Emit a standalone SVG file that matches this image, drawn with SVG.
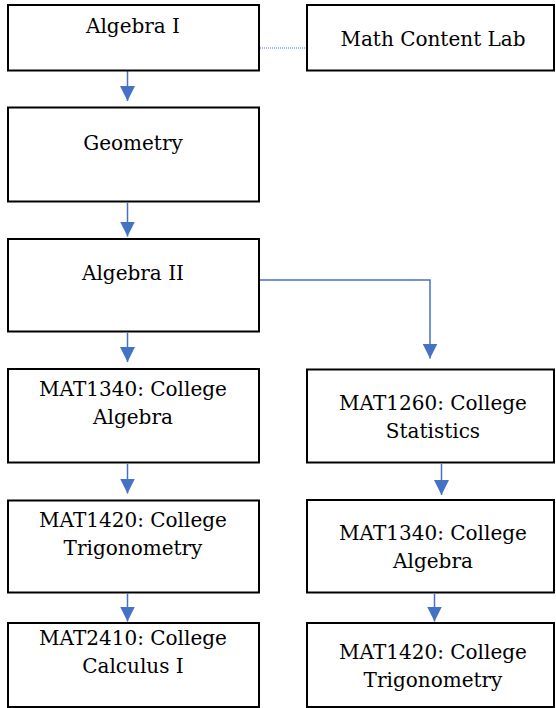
<svg xmlns="http://www.w3.org/2000/svg" width="556" height="708" viewBox="0 0 556 708">
<style>
.box{fill:#fff;stroke:#000;stroke-width:2}
.t{font-family:"DejaVu Serif","Liberation Serif",serif;font-size:20px;fill:#000;text-anchor:middle}
.c{fill:none;stroke:#4472C4;stroke-width:1.5}
.d{fill:none;stroke:#4472C4;stroke-width:1;stroke-dasharray:1 1}
</style>
<defs>
<marker id="ah" viewBox="0 0 15 15" refX="15" refY="7.5" markerWidth="15" markerHeight="15" markerUnits="userSpaceOnUse" orient="auto">
<path d="M0,0 L15,7.5 L0,15 Z" fill="#4472C4"/>
</marker>
</defs>
<rect width="556" height="708" fill="#fff"/>
<g id="connectors">
<line class="d" x1="260" y1="48" x2="306" y2="48"/>
<line class="c" x1="127.5" y1="71" x2="127.5" y2="101" marker-end="url(#ah)"/>
<line class="c" x1="127.5" y1="203" x2="127.5" y2="236.5" marker-end="url(#ah)"/>
<line class="c" x1="127.5" y1="333" x2="127.5" y2="362" marker-end="url(#ah)"/>
<polyline class="c" points="260,280 430,280 430,358.5" marker-end="url(#ah)"/>
<line class="c" x1="127.5" y1="464" x2="127.5" y2="493.5" marker-end="url(#ah)"/>
<line class="c" x1="127.5" y1="594" x2="127.5" y2="621.5" marker-end="url(#ah)"/>
<line class="c" x1="441.5" y1="464" x2="441.5" y2="495" marker-end="url(#ah)"/>
<line class="c" x1="434.5" y1="594" x2="434.5" y2="621.5" marker-end="url(#ah)"/>
</g>
<g id="algebra1"><rect class="box" x="8" y="5" width="251" height="65.5"/><text class="t" x="133" y="33">Algebra I</text></g>
<g id="mathlab"><rect class="box" x="307" y="5" width="247" height="65.5"/><text class="t" x="433" y="46">Math Content Lab</text></g>
<g id="geometry"><rect class="box" x="8" y="107.5" width="251" height="94"/><text class="t" x="133" y="150">Geometry</text></g>
<g id="algebra2"><rect class="box" x="8" y="239" width="251" height="92.5"/><text class="t" x="133" y="280">Algebra II</text></g>
<g id="mat1340l"><rect class="box" x="8" y="369" width="251" height="93.5"/><text class="t" x="133" y="396">MAT1340: College</text><text class="t" x="133" y="424">Algebra</text></g>
<g id="mat1260"><rect class="box" x="307" y="369.5" width="247" height="93"/><text class="t" x="433" y="410">MAT1260: College</text><text class="t" x="433" y="438">Statistics</text></g>
<g id="mat1420l"><rect class="box" x="8" y="500.5" width="251" height="92"/><text class="t" x="133" y="527">MAT1420: College</text><text class="t" x="133" y="555">Trigonometry</text></g>
<g id="mat1340r"><rect class="box" x="307" y="500" width="247" height="92.5"/><text class="t" x="433" y="540">MAT1340: College</text><text class="t" x="433" y="568">Algebra</text></g>
<g id="mat2410"><rect class="box" x="8" y="623" width="251" height="84"/><text class="t" x="133" y="645">MAT2410: College</text><text class="t" x="133" y="673">Calculus I</text></g>
<g id="mat1420r"><rect class="box" x="307" y="623" width="247" height="84"/><text class="t" x="433" y="659">MAT1420: College</text><text class="t" x="433" y="687">Trigonometry</text></g>
</svg>
